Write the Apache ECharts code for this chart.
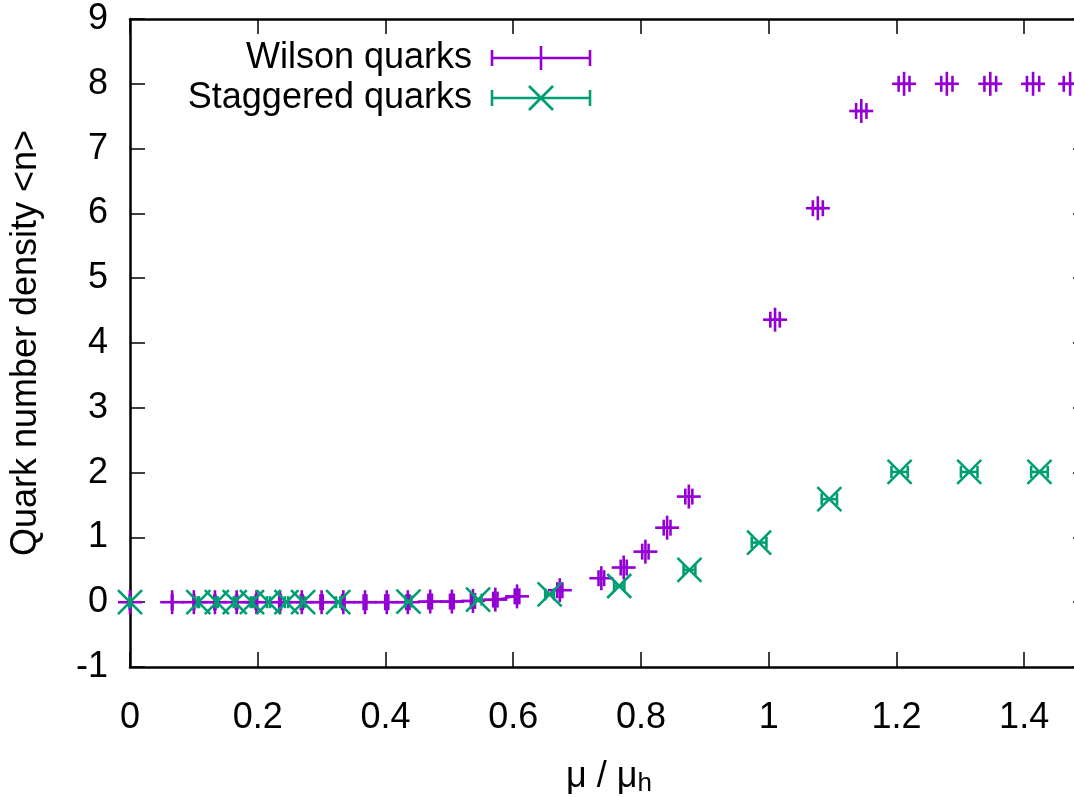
<!DOCTYPE html>
<html><head><meta charset="utf-8">
<script src="https://cdn.jsdelivr.net/npm/echarts@6/dist/echarts.min.js"></script>
<style>html,body{margin:0;padding:0;background:#fff}#c{width:1074px;height:797px}</style>
</head><body><div id="c"></div>
<script>
// ---- data ----
const seriesNames = ['Wilson quarks', 'Staggered quarks'];
const wilsonX = [0, 0.066, 0.100, 0.133, 0.167, 0.198, 0.235, 0.269, 0.300, 0.334, 0.368, 0.402, 0.435, 0.470, 0.504, 0.537, 0.572, 0.606, 0.673, 0.738, 0.773, 0.807, 0.841, 0.875, 1.010, 1.077, 1.145, 1.212, 1.279, 1.347, 1.414, 1.472];
const wilsonY = [0, 0, 0, 0, 0, 0, 0, 0, 0, 0, 0, 0, 0, 0.01, 0.01, 0.02, 0.04, 0.09, 0.185, 0.37, 0.535, 0.78, 1.15, 1.63, 4.36, 6.08, 7.58, 8.0, 8.0, 8.0, 8.0, 8.0];
const wilsonXErr = [0, 0.0004, 0.0006, 0.0008, 0.0010, 0.0012, 0.0014, 0.0016, 0.0018, 0.0020, 0.0022, 0.0024, 0.0026, 0.0028, 0.0030, 0.0032, 0.0034, 0.0036, 0.0040, 0.0044, 0.0047, 0.0050, 0.0053, 0.0055, 0.0074, 0.0078, 0.0081, 0.0085, 0.0088, 0.0092, 0.0096, 0.0100];
const stagX = [0, 0.107, 0.136, 0.164, 0.191, 0.217, 0.245, 0.271, 0.326, 0.436, 0.545, 0.657, 0.766, 0.876, 0.985, 1.095, 1.205, 1.314, 1.424];
const stagY = [0, 0, 0, 0, 0, 0, 0, 0, 0, 0.01, 0.04, 0.12, 0.25, 0.50, 0.92, 1.59, 2.01, 2.01, 2.01];
const stagXErr = [0, 0.0011, 0.0014, 0.0017, 0.0020, 0.0023, 0.0026, 0.0028, 0.0034, 0.0046, 0.0057, 0.0069, 0.0080, 0.0092, 0.0115, 0.0120, 0.0128, 0.0130, 0.0130];
const xTicks = {min: 0, max: 1.5, interval: 0.2};
const yTicks = {min: -1, max: 9, interval: 1};
const xTitle = 'μ / μ{sub|h}';
const yTitle = 'Quark number density <n>';

// ---- styles ----
const PURPLE = '#9400d3', GREEN = '#009e73';
const FONT = '"Liberation Sans", Arial, sans-serif';
const FS = 36;
const LW = 2.6;

const wData = wilsonX.map((x, i) => [x, wilsonY[i], wilsonXErr[i]]);
const sData = stagX.map((x, i) => [x, stagY[i], stagXErr[i]]);
const wLine = wilsonX.map((x, i) => [x, wilsonY[i]]).filter(p => p[0] >= 0.09 && p[0] <= 0.62);

function errItem(color, kind) {
  return function (params, api) {
    const x = api.value(0), y = api.value(1), e = api.value(2);
    const c = api.coord([x, y]);
    const l = api.coord([x - e, y]), r = api.coord([x + e, y]);
    const s = {stroke: color, lineWidth: LW, fill: null};
    const capH = kind === 'plus' ? 8 : 6, m = 12;
    const ch = [
      {type: 'line', shape: {x1: l[0], y1: l[1], x2: r[0], y2: r[1]}, style: s},
      {type: 'line', shape: {x1: l[0], y1: l[1] - capH, x2: l[0], y2: l[1] + capH}, style: s},
      {type: 'line', shape: {x1: r[0], y1: r[1] - capH, x2: r[0], y2: r[1] + capH}, style: s}
    ];
    if (kind === 'plus') {
      ch.push({type: 'line', shape: {x1: c[0] - m, y1: c[1], x2: c[0] + m, y2: c[1]}, style: s});
      ch.push({type: 'line', shape: {x1: c[0], y1: c[1] - m, x2: c[0], y2: c[1] + m}, style: s});
    } else {
      ch.push({type: 'line', shape: {x1: c[0] - m, y1: c[1] - m, x2: c[0] + m, y2: c[1] + m}, style: s});
      ch.push({type: 'line', shape: {x1: c[0] - m, y1: c[1] + m, x2: c[0] + m, y2: c[1] - m}, style: s});
    }
    return {type: 'group', children: ch};
  };
}

const axisLineStyle = {color: '#000', width: 2.5};
const tickStyle = {color: '#000', width: 1.5};
const labelStyle = {color: '#000', fontSize: FS, fontFamily: FONT};

function legendRow(y, name, color, kind) {
  const s = {stroke: color, lineWidth: LW, fill: null};
  const x0 = 492, x1 = 590, xc = 541, capH = 8, m = 12;
  const ch = [
    {type: 'text', x: 472, y: y, style: {text: name, textAlign: 'right', textVerticalAlign: 'middle', font: FS + 'px ' + FONT, fill: '#000'}},
    {type: 'line', shape: {x1: x0, y1: y, x2: x1, y2: y}, style: s},
    {type: 'line', shape: {x1: x0, y1: y - capH, x2: x0, y2: y + capH}, style: s},
    {type: 'line', shape: {x1: x1, y1: y - capH, x2: x1, y2: y + capH}, style: s}
  ];
  if (kind === 'plus') {
    ch.push({type: 'line', shape: {x1: xc, y1: y - m, x2: xc, y2: y + m}, style: s});
  } else {
    ch.push({type: 'line', shape: {x1: xc - m, y1: y - m, x2: xc + m, y2: y + m}, style: s});
    ch.push({type: 'line', shape: {x1: xc - m, y1: y + m, x2: xc + m, y2: y - m}, style: s});
  }
  return {type: 'group', children: ch};
}

const chart = echarts.init(document.getElementById('c'), null, {renderer: 'canvas'});
chart.setOption({
  animation: false,
  backgroundColor: '#fff',
  grid: {left: 130, top: 19, right: -14, bottom: 130, containLabel: false, outerBoundsMode: 'none'},
  xAxis: [{
    type: 'value', position: 'bottom', min: xTicks.min, max: xTicks.max, interval: xTicks.interval,
    axisLine: {show: true, onZero: false, lineStyle: axisLineStyle},
    axisTick: {show: true, inside: true, length: 15, lineStyle: tickStyle},
    axisLabel: Object.assign({margin: 33, showMaxLabel: false}, labelStyle),
    splitLine: {show: false},
    name: xTitle, nameLocation: 'middle', nameGap: 90,
    nameTextStyle: {color: '#000', fontSize: FS, fontFamily: FONT, rich: {sub: {fontSize: 26, fontFamily: FONT, color: '#000', verticalAlign: 'bottom', padding: [14, 0, 0, 0]}}}
  }, {
    type: 'value', position: 'top', min: xTicks.min, max: xTicks.max, interval: xTicks.interval,
    axisLine: {show: true, onZero: false, lineStyle: axisLineStyle},
    axisTick: {show: true, inside: true, length: 15, lineStyle: tickStyle},
    axisLabel: {show: false}, splitLine: {show: false}
  }],
  yAxis: [{
    type: 'value', position: 'left', min: yTicks.min, max: yTicks.max, interval: yTicks.interval,
    axisLine: {show: true, onZero: false, lineStyle: axisLineStyle},
    axisTick: {show: true, inside: true, length: 15, lineStyle: tickStyle},
    axisLabel: Object.assign({margin: 22}, labelStyle),
    splitLine: {show: false},
    name: yTitle, nameLocation: 'middle', nameGap: 86, nameRotate: 90,
    nameTextStyle: {color: '#000', fontSize: FS, fontFamily: FONT}
  }, {
    type: 'value', position: 'right', min: yTicks.min, max: yTicks.max, interval: yTicks.interval,
    axisLine: {show: true, onZero: false, lineStyle: axisLineStyle},
    axisTick: {show: true, inside: true, length: 15, lineStyle: tickStyle},
    axisLabel: {show: false}, splitLine: {show: false}
  }],
  series: [{
    name: seriesNames[0] + ' line', type: 'line', data: wLine, symbol: 'none',
    lineStyle: {color: PURPLE, width: 2}, silent: true, z: 2
  }, {
    name: seriesNames[0], type: 'custom', data: wData, renderItem: errItem(PURPLE, 'plus'),
    encode: {x: 0, y: 1}, z: 3
  }, {
    name: seriesNames[1], type: 'custom', data: sData, renderItem: errItem(GREEN, 'x'),
    encode: {x: 0, y: 1}, z: 4
  }],
  graphic: [legendRow(58, seriesNames[0], PURPLE, 'plus'), legendRow(98, seriesNames[1], GREEN, 'x')]
});
</script>
</body></html>
